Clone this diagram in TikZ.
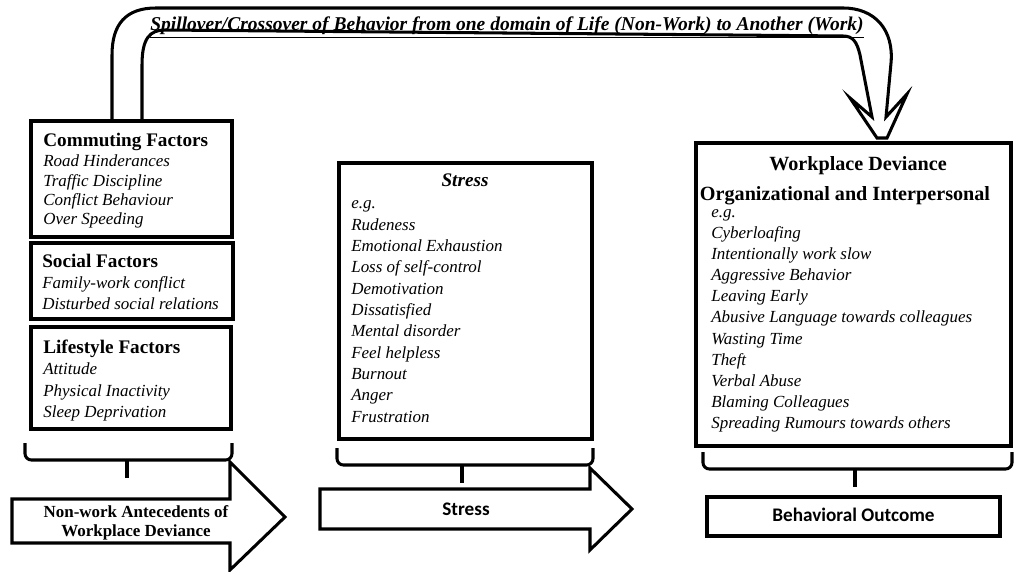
\documentclass[tikz,border=0pt]{standalone}
\usepackage{fontspec}
\setmainfont{Liberation Serif}
\newfontfamily\calibfont{Carlito}
\usetikzlibrary{calc}

\newcommand\pxu{0.625pt}

\tikzset{
  box/.style={draw, line width=1.9pt, inner sep=0pt, outer sep=0pt},
  head/.style={font=\fontsize{12}{14}\selectfont\bfseries, inner sep=0pt, anchor=base west},
  item/.style={font=\fontsize{10.6}{12}\selectfont\itshape, inner sep=0pt, anchor=base west},
  tag/.style={font=\fontsize{10.6}{12}\selectfont\bfseries, inner sep=0pt, anchor=base},
  sanstag/.style={font=\fontsize{12}{14}\selectfont\calibfont\bfseries, inner sep=0pt, anchor=base},
  brace/.style={line width=1.9pt, rounded corners=4pt},
  fat/.style={draw, line width=1.9pt, fill=white},
}

\begin{document}
\begin{tikzpicture}[x=\pxu,y=-\pxu]
  \useasboundingbox (0,0) rectangle (1014,572);

  % the spillover arrow
  \draw [fat] (112,121) -- (112,55) .. controls (112,24) and (126,8) .. (156,8)
    -- (843,8) .. controls (875,8) and (894,30) .. (891,63)
    -- (886,117) -- (907,94) -- (887,138) -- (877,138) -- (850,98)
    -- (872,117) -- (860,55) .. controls (857,42) and (853,36) .. (843,36)
    -- (165,30) .. controls (150,30) and (142,38) .. (142,65) -- (142,121) -- cycle;
  \node [font=\fontsize{12.2}{14}\selectfont\bfseries\itshape, inner sep=0pt, anchor=base]
    (spill) at (507,31)
    {\underline{Spillover/Crossover of Behavior from one domain of Life (Non-Work) to Another (Work)}};

  % left column
  \node [box, minimum width={201*\pxu}, minimum height={116*\pxu}] (comm) at (131.5,179) {};
  \node [box, minimum width={202*\pxu}, minimum height={76*\pxu}] (soc) at (132,281) {};
  \node [box, minimum width={200*\pxu}, minimum height={102*\pxu}] (life) at (131,378) {};

  \node [head] (commhead) at (43,147) {Commuting Factors};
  \foreach \t [count=\i from 0] in {Road Hinderances,Traffic Discipline,Conflict Behaviour,Over Speeding}
    \node [item] (comm-\i) at (43,167+19.1*\i) {\t};

  \node [head] (sochead) at (42,268) {Social Factors};
  \foreach \t [count=\i from 0] in {Family-work conflict,Disturbed social relations}
    \node [item] (soc-\i) at (42,289+21*\i) {\t};

  \node [head] (lifehead) at (43,353) {Lifestyle Factors};
  \foreach \t [count=\i from 0] in {Attitude,Physical Inactivity,Sleep Deprivation}
    \node [item] (life-\i) at (43,375+21*\i) {\t};

  % middle column
  \node [box, minimum width={253*\pxu}, minimum height={276*\pxu}] (strs) at (465.5,301) {};
  \node [head, anchor=base, font=\fontsize{12}{14}\selectfont\bfseries\itshape] (strshead) at (465,187) {Stress};
  \foreach \t [count=\i from 0] in {e.g.,Rudeness,Emotional Exhaustion,Loss of self-control,Demotivation,Dissatisfied,Mental disorder,Feel helpless,Burnout,Anger,Frustration}
    \node [item] (strs-\i) at (351,209+21.3*\i) {\t};

  % right column
  \node [box, minimum width={315*\pxu}, minimum height={303*\pxu}] (wpd) at (853.5,294.5) {};
  \node [head, anchor=base, font=\fontsize{12.6}{14}\selectfont\bfseries] (wpdhead) at (858,171) {Workplace Deviance};
  \node [head, anchor=base, font=\fontsize{12.6}{14}\selectfont\bfseries] (wpdsub) at (845,201) {Organizational and Interpersonal};
  \foreach \t [count=\i from 0] in {e.g.,Cyberloafing,Intentionally work slow,Aggressive Behavior,Leaving Early,Abusive Language towards colleagues,Wasting Time,Theft,Verbal Abuse,Blaming Colleagues,Spreading Rumours towards others}
    \node [item] (wpd-\i) at (711,217.5+21.1*\i) {\t};

  % braces under the boxes
  \coordinate (lbr) at (127,478);
  \coordinate (mbr) at (462,483);
  \coordinate (rbr) at (855,487);
  \draw [brace] (25,443) -- (25,460) -- (232,460) -- (232,443);
  \draw [brace] (lbr |- 0,460) -- (lbr);
  \draw [brace] (337,448) -- (337,465) -- (593,465) -- (593,448);
  \draw [brace] (mbr |- 0,465) -- (mbr);
  \draw [brace] (703,452) -- (703,469) -- (1012,469) -- (1012,452);
  \draw [brace] (rbr |- 0,469) -- (rbr);

  % bottom row
  \draw [fat] (12,499) -- (230,499) -- (230,462) -- (285,517) -- (230,570)
    -- (230,543) -- (12,543) -- cycle;
  \node [tag] (ante1) at (136,517) {Non-work Antecedents of};
  \node [tag] (ante2) at (136,536) {Workplace Deviance};

  \draw [fat] (320,489) -- (590,489) -- (590,468) -- (632,509) -- (590,550)
    -- (590,529) -- (320,529) -- cycle;
  \node [sanstag] (strstag) at (466,515) {Stress};

  \node [box, minimum width={293*\pxu}, minimum height={39*\pxu}] (outc) at (853.5,516.5) {};
  \node [sanstag] (outctag) at (853.5,521) {Behavioral Outcome};
\end{tikzpicture}
\end{document}
